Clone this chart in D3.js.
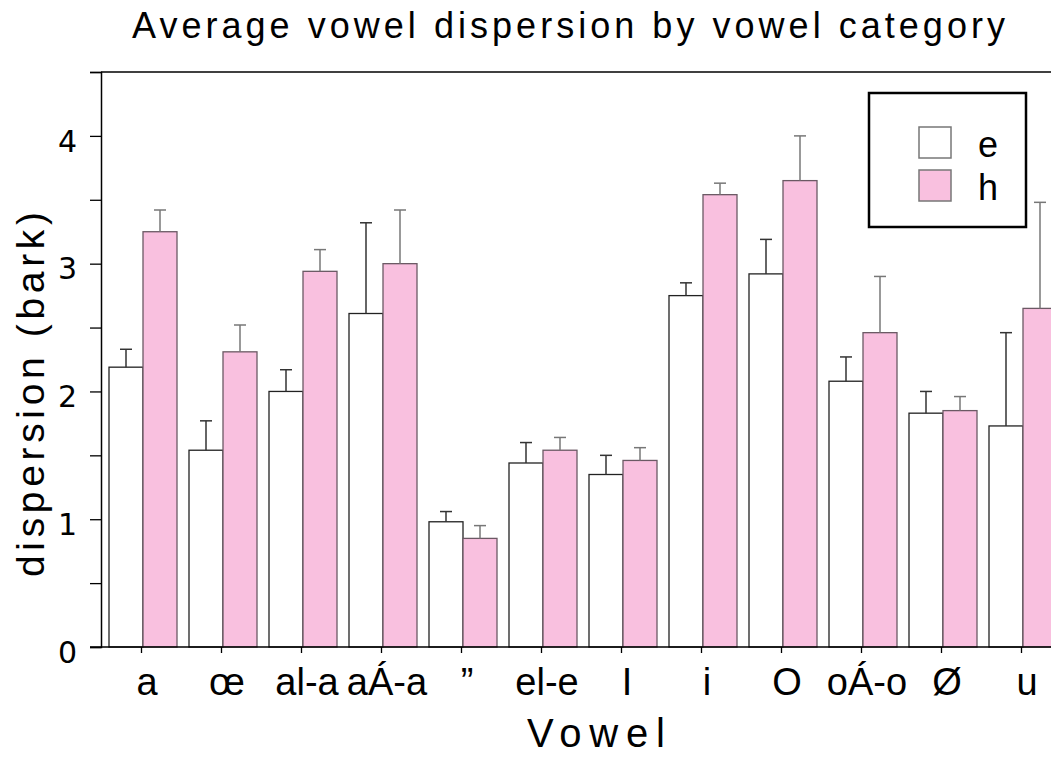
<!DOCTYPE html>
<html>
<head>
<meta charset="utf-8">
<script src="https://cdn.jsdelivr.net/npm/d3@7"></script>
<style>
  body { margin: 0; background: #fff; }
  svg { display: block; }
  text { font-family: "Liberation Sans", Arial, sans-serif; fill: #000; }
</style>
</head>
<body>
<div id="chart"></div>
<script>
// data
const categories = ["a", "œ", "al-a", "aÁ-a", "”", "el-e", "I", "i", "O", "oÁ-o", "Ø", "u"];
const series = ["e", "h"];
const eMeans = [2.19, 1.54, 2.00, 2.61, 0.98, 1.44, 1.35, 2.75, 2.92, 2.08, 1.83, 1.73];
const eErr   = [0.14, 0.23, 0.17, 0.71, 0.08, 0.16, 0.15, 0.10, 0.27, 0.19, 0.17, 0.73];
const hMeans = [3.25, 2.31, 2.94, 3.00, 0.85, 1.54, 1.46, 3.54, 3.65, 2.46, 1.85, 2.65];
const hErr   = [0.17, 0.21, 0.17, 0.42, 0.10, 0.10, 0.10, 0.09, 0.35, 0.44, 0.11, 0.83];
const yTicks = [0, 0.5, 1, 1.5, 2, 2.5, 3, 3.5, 4, 4.5];

const W = 1051, H = 757;
const fills = { e: "#ffffff", h: "#f9c0df" };
const strokes = { e: "#222222", h: "#6b5964" };
const errColor = { e: "#333333", h: "#777777" };

const svg = d3.select("#chart").append("svg")
  .attr("width", W)
  .attr("height", H);

// scales
const y = d3.scaleLinear().domain([0, 4.5]).range([647, 72]);
const x = d3.scaleBand().domain(categories).range([103, 1063]);
const xs = d3.scaleBand().domain(series).range([6, x.bandwidth() - 6]);

// rows for the bars
let rows = [];
categories.forEach(function (c, i) {
  rows.push({ cat: c, s: "e", v: eMeans[i], err: eErr[i] });
  rows.push({ cat: c, s: "h", v: hMeans[i], err: hErr[i] });
});

// bars
svg.append("g")
  .selectAll("rect")
  .data(rows)
  .join("rect")
  .attr("x", d => x(d.cat) + xs(d.s))
  .attr("y", d => y(d.v))
  .attr("width", xs.bandwidth())
  .attr("height", d => y(0) - y(d.v))
  .attr("fill", d => fills[d.s])
  .attr("stroke", d => strokes[d.s])
  .attr("stroke-width", 1.3);

// error bars (upper only)
const eb = svg.append("g")
  .selectAll("g")
  .data(rows)
  .join("g")
  .attr("stroke", d => errColor[d.s])
  .attr("stroke-width", 1.5);

eb.append("line")
  .attr("x1", d => x(d.cat) + xs(d.s) + xs.bandwidth() / 2)
  .attr("x2", d => x(d.cat) + xs(d.s) + xs.bandwidth() / 2)
  .attr("y1", d => y(d.v))
  .attr("y2", d => y(d.v + d.err));

eb.append("line")
  .attr("x1", d => x(d.cat) + xs(d.s) + xs.bandwidth() / 2 - 6)
  .attr("x2", d => x(d.cat) + xs(d.s) + xs.bandwidth() / 2 + 6)
  .attr("y1", d => y(d.v + d.err))
  .attr("y2", d => y(d.v + d.err));

// top frame line
svg.append("line")
  .attr("x1", 101).attr("x2", W)
  .attr("y1", y(4.5)).attr("y2", y(4.5))
  .attr("stroke", "#000").attr("stroke-width", 1.3);

// y axis
const yAxis = svg.append("g")
  .attr("transform", "translate(101,0)")
  .call(d3.axisLeft(y).tickValues(yTicks).tickSize(11).tickFormat(""));
yAxis.select(".domain").attr("stroke-width", 1.5);
yAxis.selectAll(".tick line").attr("stroke-width", 1.3);

svg.append("g")
  .selectAll("text")
  .data(yTicks.filter(t => t % 1 === 0))
  .join("text")
  .attr("x", 77)
  .attr("y", d => y(d) + 5)
  .attr("dy", "0.36em")
  .attr("text-anchor", "end")
  .style("font-family", "'DejaVu Sans', sans-serif")
  .style("font-size", "30px")
  .text(d => d);

// x axis (ticks sit a little left of the group centre)
const xAxis = svg.append("g")
  .attr("transform", "translate(-1.5," + y(0) + ")")
  .call(d3.axisBottom(x).tickSize(6).tickSizeOuter(0).tickFormat(""));
xAxis.select(".domain").attr("d", "M91.5,0H" + (W + 2)).attr("stroke-width", 1.5);
xAxis.selectAll(".tick line").attr("stroke-width", 1.3);

svg.append("g")
  .selectAll("text")
  .data(categories)
  .join("text")
  .attr("x", d => x(d) + x.bandwidth() / 2 + 4)
  .attr("y", 695)
  .attr("text-anchor", "middle")
  .style("font-size", "38px")
  .text(d => d);

// title and axis labels
svg.append("text")
  .attr("x", 132)
  .attr("y", 38)
  .attr("textLength", 873)
  .attr("lengthAdjust", "spacing")
  .style("font-size", "36px")
  .text("Average vowel dispersion by vowel category");

svg.append("text")
  .attr("transform", "translate(44,577) rotate(-90)")
  .attr("textLength", 365)
  .attr("lengthAdjust", "spacing")
  .style("font-size", "39px")
  .text("dispersion (bark)");

svg.append("text")
  .attr("x", 527)
  .attr("y", 747)
  .attr("textLength", 138)
  .attr("lengthAdjust", "spacing")
  .style("font-size", "40px")
  .text("Vowel");

// legend
const legend = svg.append("g");
legend.append("rect")
  .attr("x", 869).attr("y", 93)
  .attr("width", 157).attr("height", 134)
  .attr("fill", "#fff")
  .attr("stroke", "#000")
  .attr("stroke-width", 2.5);

const li = legend.selectAll(".item")
  .data(series)
  .join("g")
  .attr("class", "item")
  .attr("transform", (d, i) => "translate(919," + (127 + i * 43) + ")");

li.append("rect")
  .attr("width", 32).attr("height", 31)
  .attr("fill", d => fills[d])
  .attr("stroke", "#777")
  .attr("stroke-width", 1.5);

li.append("text")
  .attr("x", 59)
  .attr("y", 30)
  .style("font-size", "36px")
  .text(d => d);
</script>
</body>
</html>
